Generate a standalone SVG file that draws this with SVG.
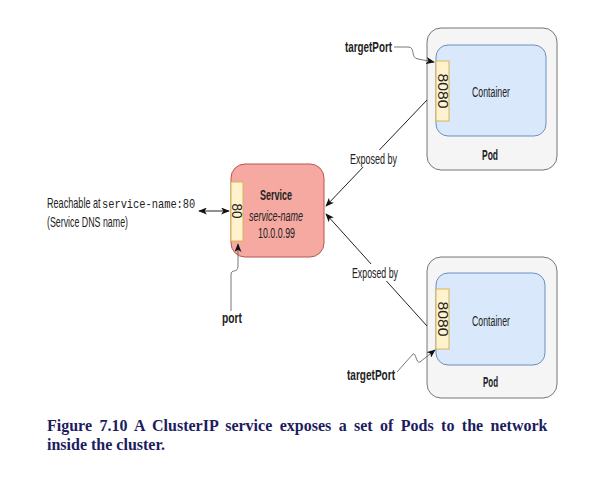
<svg xmlns="http://www.w3.org/2000/svg" width="593" height="493" viewBox="0 0 593 493">
<style>
.t{font-family:"Liberation Sans",Arial,sans-serif;font-size:14px;fill:#222;}
.b{font-weight:bold;}
.pod{fill:#f5f5f5;stroke:#777;stroke-width:1;}
.ctr{fill:#dae8fc;stroke:#6c8ebf;stroke-width:1;}
.prt{fill:#fff2cc;stroke:#d6b656;stroke-width:1;}
.ln{fill:none;stroke:#222;stroke-width:1;}
.gl{fill:none;stroke:#555;stroke-width:0.8;}
.cap{font-family:"Liberation Serif","Times New Roman",serif;font-size:16px;font-weight:bold;fill:#1c1c5e;}
</style>
<defs>
<marker id="ah" viewBox="0 0 10 8" refX="9" refY="4" markerWidth="9" markerHeight="7" orient="auto-start-reverse" markerUnits="userSpaceOnUse">
<path d="M0,0 L10,4 L0,8 L2.5,4 z" fill="#111"/>
</marker>
</defs>
<rect width="593" height="493" fill="#fff"/>

<g id="pod1">
<rect class="pod" x="427" y="28" width="130" height="142" rx="14"/>
<rect class="ctr" x="436" y="45" width="110" height="91" rx="12"/>
<rect class="prt" x="436" y="61" width="13" height="60"/>
<text class="t" transform="translate(438,91) rotate(90)" text-anchor="middle" textLength="35" lengthAdjust="spacingAndGlyphs">8080</text>
<text class="t" x="472" y="97" textLength="38" lengthAdjust="spacingAndGlyphs">Container</text>
<text class="t b" x="482" y="160" textLength="16" lengthAdjust="spacingAndGlyphs">Pod</text>
</g>

<g id="pod2">
<rect class="pod" x="427" y="257" width="130" height="141" rx="14"/>
<rect class="ctr" x="436" y="273" width="109" height="92" rx="12"/>
<rect class="prt" x="436" y="289" width="13" height="60"/>
<text class="t" transform="translate(438,319) rotate(90)" text-anchor="middle" textLength="35" lengthAdjust="spacingAndGlyphs">8080</text>
<text class="t" x="472" y="326" textLength="38" lengthAdjust="spacingAndGlyphs">Container</text>
<text class="t b" x="483" y="387" textLength="15" lengthAdjust="spacingAndGlyphs">Pod</text>
</g>

<g id="service">
<rect x="231" y="164" width="93" height="93" rx="14" fill="#f5a9a0" stroke="#b85450" stroke-width="1"/>
<rect class="prt" x="231" y="182" width="12" height="59"/>
<text class="t" transform="translate(232,211) rotate(90)" text-anchor="middle" textLength="15" lengthAdjust="spacingAndGlyphs">80</text>
<text class="t b" x="260" y="200" textLength="32" lengthAdjust="spacingAndGlyphs">Service</text>
<text class="t" x="249" y="221" font-style="italic" textLength="54" lengthAdjust="spacingAndGlyphs">service-name</text>
<text class="t" x="258" y="238" textLength="37" lengthAdjust="spacingAndGlyphs">10.0.0.99</text>
</g>

<g id="labels">
<text class="t" transform="translate(47,208) scale(0.65,1)">Reachable at</text>
<text transform="translate(102,208) scale(0.83,1)" font-family="'Liberation Mono','Courier New',monospace" font-size="12.5" fill="#222">service-name:80</text>
<text class="t" x="47" y="227" textLength="81" lengthAdjust="spacingAndGlyphs">(Service DNS name)</text>
<text class="t b" x="345" y="52" textLength="47" lengthAdjust="spacingAndGlyphs">targetPort</text>
<text class="t b" x="347" y="380" textLength="48" lengthAdjust="spacingAndGlyphs">targetPort</text>
<text class="t b" x="222" y="323" textLength="20" lengthAdjust="spacingAndGlyphs">port</text>
</g>

<g id="connectors">
<line class="ln" x1="427" y1="100" x2="326" y2="206" marker-end="url(#ah)"/>
<line class="ln" x1="427" y1="326" x2="326" y2="214" marker-end="url(#ah)"/>
<line class="ln" x1="199" y1="211" x2="229" y2="211" marker-start="url(#ah)" marker-end="url(#ah)"/>
<path class="gl" d="M394,47 L408,47 C416,47 410,58 418,59 L434,62" marker-end="url(#ah)"/>
<path class="gl" d="M397,372 L413,354 C416,352 416,364 420,362 L435,350" marker-end="url(#ah)"/>
<path class="gl" d="M231,311 L231,275 C231,268 238,274 238,266 L238,244" marker-end="url(#ah)"/>
<rect x="348" y="150" width="51" height="17" fill="#fff"/>
<text class="t" x="350" y="164" textLength="47" lengthAdjust="spacingAndGlyphs">Exposed by</text>
<rect x="350" y="264" width="51" height="17" fill="#fff"/>
<text class="t" x="352" y="278" textLength="46" lengthAdjust="spacingAndGlyphs">Exposed by</text>
</g>

<g id="caption">
<text class="cap" x="47" y="431" word-spacing="3.4">Figure 7.10 A ClusterIP service exposes a set of Pods to the network</text>
<text class="cap" x="47" y="450">inside the cluster.</text>
</g>
</svg>
